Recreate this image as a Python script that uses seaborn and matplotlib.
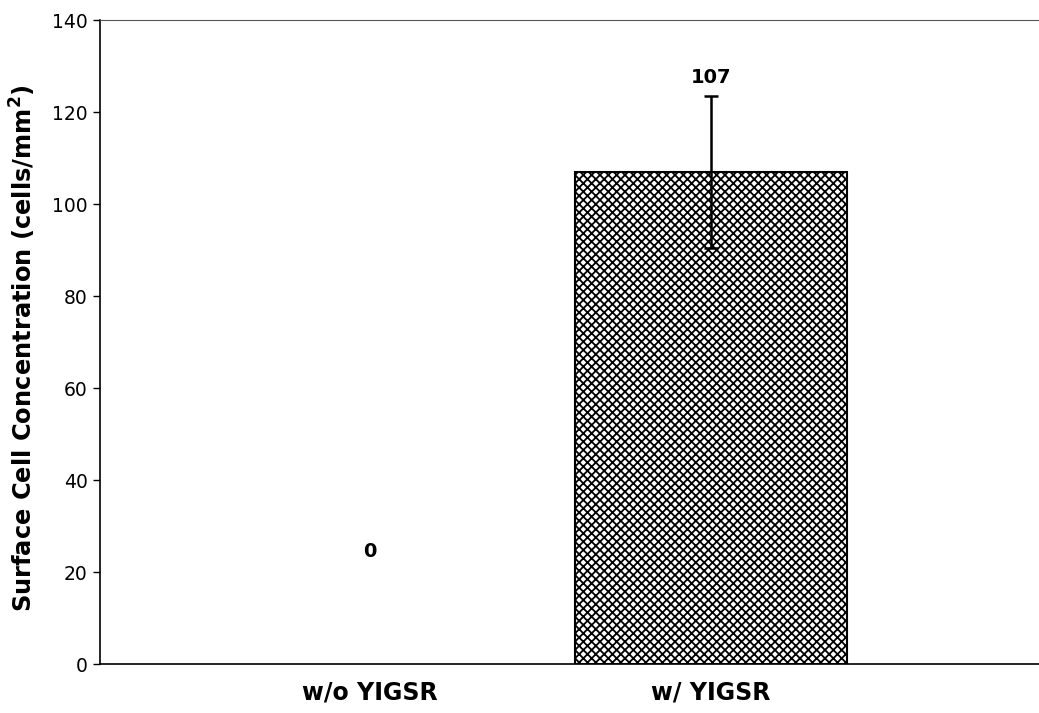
import matplotlib
matplotlib.use("Agg")
import matplotlib.pyplot as plt
import seaborn as sns
import pandas as pd

categories = ["w/o YIGSR", "w/ YIGSR"]
values = [0, 107]
errors = [0, 16.5]
labels = ["0", "107"]

sns.set_theme(style="white")
plt.rcParams['font.family'] = ['DejaVu Sans']
plt.rcParams['hatch.linewidth'] = 1.3
plt.rcParams['text.color'] = 'black'
plt.rcParams['xtick.color'] = 'black'
plt.rcParams['ytick.color'] = 'black'
plt.rcParams['axes.labelcolor'] = 'black'

df = pd.DataFrame({"cat": categories, "val": values})

fig = plt.figure(figsize=(10.39, 7.13), dpi=100)
ax = fig.add_axes([100/1039, 1-664/713, 939/1039, 644/713])

sns.barplot(data=df, x="cat", y="val", ax=ax, color="white", edgecolor="black",
            linewidth=1.5, width=0.8, errorbar=None)
for p in ax.patches:
    p.set_hatch("xxxx")
    p.set_facecolor("white")
    p.set_edgecolor("black")
    if p.get_height() == 0:
        p.set_linewidth(0)

yerr_vals = [e if e > 0 else float("nan") for e in errors]
ax.errorbar(range(len(values)), values, yerr=yerr_vals, fmt="none",
            ecolor="black", elinewidth=1.8, capsize=5, capthick=1.8)

label_y = [24.5, 127.5]
for i, (lab, ly) in enumerate(zip(labels, label_y)):
    ax.text(i, ly, lab, ha="center", va="center", fontsize=14, fontweight="bold", color="black")

ax.set_xlim(-0.792, 1.962)
ax.set_ylim(0, 140)
ax.set_yticks(range(0, 141, 20))
ax.set_xlabel("")
ax.set_ylabel("Surface Cell Concentration (cells/mm$^\\mathbf{2}$)", fontsize=17.4, fontweight="bold")
ax.yaxis.set_label_coords(-0.066, 0.49)
ax.tick_params(axis="y", direction="out", length=5, width=1, labelsize=13.5, left=True, color="black", pad=4)
ax.tick_params(axis="x", length=0, labelsize=17, pad=12)
for t in ax.get_xticklabels():
    t.set_fontweight("bold")
for s in ["left", "bottom"]:
    ax.spines[s].set_color("black")
    ax.spines[s].set_linewidth(1.2)
ax.spines["top"].set_color("#555555")
ax.spines["top"].set_linewidth(0.8)
ax.spines["right"].set_visible(False)

fig.savefig("out.png", dpi=100)
